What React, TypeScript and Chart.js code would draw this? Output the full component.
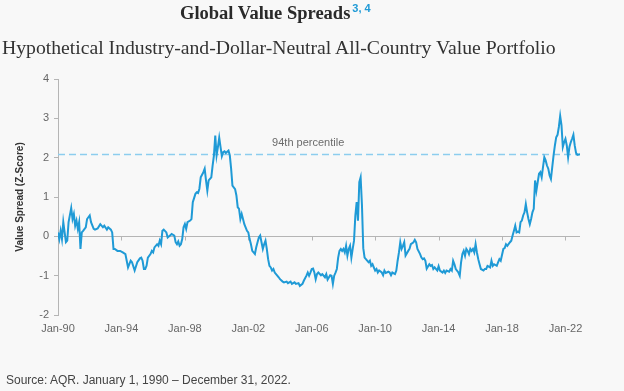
import React, { useEffect, useRef } from "react";
import { Chart, registerables } from "chart.js";
Chart.register(...registerables);

// months since Jan 1990
const months = [
  0, 1, 2, 3, 4, 6, 7, 8, 10, 11, 12, 13, 14, 15, 16, 17, 18, 19, 21, 22, 24, 25, 27, 28, 30, 32, 34, 35, 37, 38,
  40, 41, 42, 43, 45, 47, 49, 51, 52, 53, 55, 56, 58, 60, 62, 63, 64, 65, 66, 67, 68, 70, 71, 72, 73, 75, 76, 77, 78, 79,
  80, 82, 83, 85, 86, 88, 89, 90, 91, 92, 93, 94, 95, 96, 97, 98, 100, 101, 102, 104, 105, 106, 107, 108, 110, 111, 112, 113, 114, 116,
  117, 118, 119, 120, 121, 122, 123, 124, 125, 126, 127, 129, 130, 131, 132, 134, 135, 136, 137, 138, 139, 140, 141, 143, 144, 145, 146, 147, 148, 149,
  150, 151, 152, 153, 154, 155, 156, 157, 158, 159, 160, 161, 162, 163, 164, 165, 167, 168, 170, 171, 173, 174, 176, 177, 179, 180, 182, 183, 185, 186,
  188, 189, 190, 191, 192, 193, 194, 195, 196, 197, 199, 200, 202, 203, 204, 206, 207, 208, 209, 210, 211, 212, 213, 214, 215, 216, 217, 218, 219, 220,
  221, 222, 223, 224, 225, 226, 227, 228, 229, 230, 231, 232, 233, 235, 236, 237, 238, 240, 241, 242, 243, 245, 246, 247, 248, 250, 251, 252, 253, 255,
  256, 257, 258, 259, 260, 261, 262, 263, 265, 266, 267, 269, 270, 271, 272, 274, 275, 276, 277, 278, 279, 281, 282, 283, 284, 285, 287, 288, 289, 291,
  292, 293, 294, 296, 297, 298, 299, 300, 301, 303, 304, 305, 306, 307, 308, 309, 310, 311, 312, 313, 314, 315, 316, 317, 318, 319, 320, 322, 323, 324,
  325, 327, 328, 329, 330, 332, 333, 334, 335, 337, 338, 339, 340, 342, 343, 344, 345, 346, 347, 348, 349, 350, 351, 352, 353, 354, 355, 356, 357, 358,
  359, 360, 361, 362, 363, 364, 365, 366, 367, 368, 369, 370, 371, 372, 373, 374, 375, 376, 377, 378, 379, 380, 381, 382, 383, 384, 385, 386, 387, 388,
  389, 390, 391, 392, 393, 395,
];

// value spread (z-score)
const spread = [
  0.10, -0.07, 0.14, -0.07, 0.36, -0.15, -0.11, 0.36, 0.72, 0.44, 0.57, 0.27, 0.40, 0.19, 0.36, -0.32, 0.10, 0.14, 0.23, 0.44, 0.53, 0.36, 0.19, 0.17, 0.20, 0.31, 0.23, 0.27, 0.17, 0.23,
  0.17, 0.10, -0.32, -0.32, -0.37, -0.37, -0.41, -0.45, -0.62, -0.79, -0.62, -0.66, -0.87, -0.66, -0.56, -0.54, -0.62, -0.83, -0.83, -0.75, -0.54, -0.45, -0.37, -0.41, -0.28, -0.20, -0.24, -0.11, -0.20, 0.14,
  0.17, 0.10, -0.03, 0.03, 0.06, 0.02, -0.15, -0.20, -0.13, -0.24, -0.20, -0.07, 0.23, 0.31, 0.19, 0.36, 0.40, 0.44, 0.87, 1.08, 1.12, 1.10, 1.21, 1.50, 1.63, 1.72, 1.42, 1.16, 1.42, 1.50,
  1.80, 2.06, 2.56, 2.06, 2.27, 2.51, 2.27, 2.04, 2.14, 2.16, 2.12, 2.18, 2.06, 1.72, 1.29, 1.20, 1.04, 0.74, 0.70, 0.44, 0.57, 0.44, 0.31, 0.14, 0.10, -0.07, -0.20, -0.37, -0.41, -0.45,
  -0.28, -0.15, -0.03, 0.02, -0.15, -0.32, -0.20, -0.11, -0.32, -0.58, -0.75, -0.79, -0.87, -0.83, -0.92, -0.96, -1.04, -1.09, -1.15, -1.17, -1.15, -1.19, -1.15, -1.21, -1.17, -1.21, -1.19, -1.26, -1.21, -1.13,
  -1.00, -0.92, -1.00, -0.92, -0.83, -0.82, -0.92, -1.09, -0.96, -0.92, -0.99, -0.96, -1.04, -0.96, -1.10, -0.99, -1.00, -1.21, -1.00, -0.92, -0.83, -0.54, -0.37, -0.32, -0.37, -0.32, -0.41, -0.24, -0.49, -0.32,
  -0.24, -0.54, -0.32, -0.11, 0.53, 0.87, 0.40, 1.38, 1.50, 0.80, -0.30, -0.54, -0.58, -0.66, -0.62, -0.75, -0.71, -0.87, -0.83, -0.92, -0.87, -0.92, -0.99, -0.87, -0.93, -0.90, -0.92, -0.99, -0.92, -0.96,
  -0.87, -0.62, -0.41, -0.15, -0.32, -0.24, -0.15, -0.49, -0.37, -0.32, -0.20, -0.15, -0.09, -0.15, -0.32, -0.45, -0.54, -0.58, -0.56, -0.62, -0.82, -0.71, -0.75, -0.73, -0.83, -0.79, -0.87, -0.76, -0.87, -0.92,
  -0.87, -0.93, -0.87, -0.90, -0.83, -0.87, -0.62, -0.71, -0.83, -0.92, -1.00, -0.66, -0.45, -0.37, -0.49, -0.32, -0.37, -0.45, -0.32, -0.37, -0.32, -0.41, -0.20, -0.41, -0.58, -0.71, -0.83, -0.87, -0.83, -0.83,
  -0.75, -0.79, -0.62, -0.75, -0.71, -0.75, -0.66, -0.58, -0.62, -0.32, -0.30, -0.20, -0.24, -0.15, -0.11, 0.02, 0.14, 0.27, 0.10, 0.12, 0.10, 0.36, 0.40, 0.53, 0.61, 0.82, 0.61, 0.44, 0.31, 0.44,
  0.61, 0.70, 1.42, 1.16, 1.38, 1.59, 1.63, 1.50, 1.76, 2.01, 1.93, 1.80, 1.72, 1.55, 1.46, 1.76, 2.06, 2.31, 2.52, 2.58, 2.78, 3.06, 2.82, 2.27, 2.39, 2.48, 2.31, 2.01, 2.27, 2.39,
  2.48, 2.58, 2.31, 2.12, 2.07, 2.09,
];

const tickLabels = ["Jan-90", "Jan-94", "Jan-98", "Jan-02", "Jan-06", "Jan-10", "Jan-14", "Jan-18", "Jan-22"];
const tickMonths = [0, 48, 96, 144, 192, 240, 288, 336, 384];
const yTicks = [-2, -1, 0, 1, 2, 3, 4];
const percentile94 = 2.08;
const percentileLabel = "94th percentile";
const percentileLabelMonth = 162;
const lastMonth = 395;

const SANS = "'Liberation Sans', Arial, sans-serif";
const SERIF = "'Liberation Serif', 'Times New Roman', serif";

export default function App() {
  const ref = useRef<HTMLCanvasElement>(null);

  useEffect(() => {
    if (!ref.current) return;
    Chart.defaults.font.family = SANS;

    const zeroLine = {
      id: "zeroLine",
      beforeDatasetsDraw(chart: any) {
        const { ctx } = chart;
        const x = chart.scales.x;
        const y = chart.scales.y;
        const y0 = Math.round(y.getPixelForValue(0)) + 0.5;
        ctx.save();
        ctx.strokeStyle = "#b5b5b5";
        ctx.lineWidth = 1;
        ctx.beginPath();
        ctx.moveTo(x.getPixelForValue(0), y0);
        ctx.lineTo(x.getPixelForValue(lastMonth), y0);
        tickMonths.forEach((m) => {
          const px = Math.round(x.getPixelForValue(m)) + 0.5;
          ctx.moveTo(px, y0);
          ctx.lineTo(px, y0 + 4);
        });
        ctx.stroke();
        ctx.fillStyle = "#6b6b6b";
        ctx.font = `11px ${SANS}`;
        ctx.textAlign = "left";
        ctx.textBaseline = "middle";
        ctx.fillText(percentileLabel, x.getPixelForValue(percentileLabelMonth), y.getPixelForValue(percentile94) - 12);
        ctx.restore();
      },
    };

    const chart = new Chart(ref.current, {
      type: "line",
      data: {
        datasets: [
          {
            data: months.map((m, i) => ({ x: m, y: spread[i] })),
            borderColor: "#1f9ad6",
            borderWidth: 2,
            pointRadius: 0,
            tension: 0,
          },
          {
            data: [
              { x: 0, y: percentile94 },
              { x: lastMonth, y: percentile94 },
            ],
            borderColor: "#8dcdee",
            borderWidth: 1.5,
            borderDash: [7, 4],
            pointRadius: 0,
          },
        ],
      },
      options: {
        animation: false,
        responsive: false,
        layout: { padding: { top: 79, right: 44, left: 0, bottom: 0 } },
        plugins: { legend: { display: false }, tooltip: { enabled: false }, title: { display: false } },
        scales: {
          x: {
            type: "linear",
            min: 0,
            max: lastMonth,
            afterBuildTicks: (s: any) => {
              s.ticks = tickMonths.map((v) => ({ value: v }));
            },
            afterFit: (s: any) => {
              s.height = 76;
            },
            ticks: {
              callback: (_v: any, i: number) => tickLabels[i],
              color: "#666666",
              font: { size: 11 },
              padding: 7,
              maxRotation: 0,
              autoSkip: false,
            },
            grid: { display: false, drawTicks: false },
            border: { display: false },
          },
          y: {
            min: -2,
            max: 4,
            afterBuildTicks: (s: any) => {
              s.ticks = yTicks.map((v) => ({ value: v }));
            },
            afterFit: (s: any) => {
              s.width = 58;
            },
            ticks: { color: "#666666", font: { size: 11 }, padding: 5 },
            grid: { drawOnChartArea: false, tickLength: 4, color: "#b5b5b5" },
            border: { color: "#b5b5b5" },
            title: {
              display: true,
              text: "Value Spread (Z-Score)",
              color: "#333333",
              font: { size: 10, weight: "bold" },
              padding: { top: 14, bottom: 0 },
            },
          },
        },
      },
      plugins: [zeroLine],
    } as any);
    return () => chart.destroy();
  }, []);

  return (
    <div
      style={{
        position: "fixed",
        left: 0,
        top: 0,
        width: 624,
        height: 391,
        background: "#f8f8f8",
        overflow: "hidden",
      }}
    >
      <canvas ref={ref} width={624} height={391} style={{ position: "absolute", left: 0, top: 0, display: "block" }} />
      <div
        style={{
          position: "absolute",
          left: 180,
          top: 2,
          fontFamily: SERIF,
          fontSize: 18.5,
          fontWeight: "bold",
          color: "#2a2a2a",
          whiteSpace: "nowrap",
          lineHeight: "22px",
        }}
      >
        Global Value Spreads
        <span
          style={{
            fontFamily: SANS,
            fontWeight: "bold",
            fontSize: 11,
            color: "#1f9ad6",
            position: "relative",
            top: -7,
            marginLeft: 2,
          }}
        >
          3, 4
        </span>
      </div>
      <div
        style={{
          position: "absolute",
          left: 2,
          top: 36,
          fontFamily: SERIF,
          fontSize: 19.7,
          color: "#333",
          whiteSpace: "nowrap",
          lineHeight: "22px",
        }}
      >
        Hypothetical Industry-and-Dollar-Neutral All-Country Value Portfolio
      </div>
      <div
        style={{
          position: "absolute",
          left: 6,
          top: 373,
          fontFamily: SANS,
          fontSize: 12,
          color: "#444",
          whiteSpace: "nowrap",
          lineHeight: "14px",
        }}
      >
        Source: AQR. January 1, 1990 – December 31, 2022.
      </div>
    </div>
  );
}
